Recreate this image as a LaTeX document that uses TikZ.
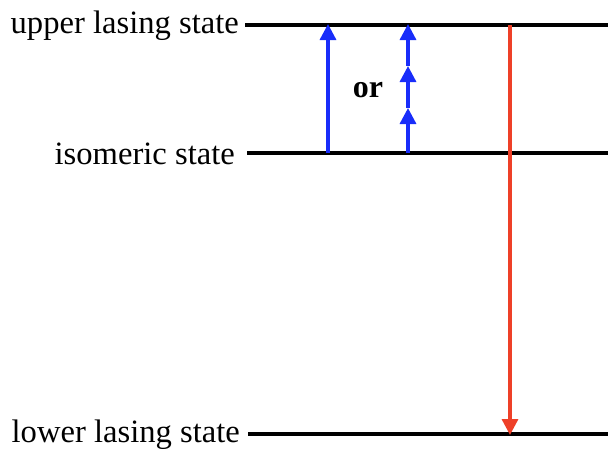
\documentclass[tikz,border=0pt]{standalone}
\usepackage{fontspec}
\setmainfont{Liberation Serif}
\usetikzlibrary{arrows.meta}
\definecolor{pumpblue}{RGB}{25,45,250}
\definecolor{lasred}{RGB}{238,64,40}
\begin{document}
\begin{tikzpicture}[x=1pt,y=-1pt,
  level/.style={line width=3.3pt,black},
  lab/.style={anchor=east,inner sep=0pt,font=\fontsize{32.6}{38}\selectfont},
  pump/.style={line width=3.3pt,pumpblue,-{Triangle[length=16pt,width=16pt]}},
  emit/.style={line width=3.3pt,lasred,-{Triangle[length=16pt,width=16pt]}}]
\useasboundingbox (0,0) rectangle (608,450);
\node[lab] (tu) at (239,26) {upper lasing state};
\node[lab] (tm) at (235,154) {isomeric state};
\node[lab] (tl) at (240,435) {lower lasing state};
\coordinate (u0) at (245,25); \coordinate (u1) at (608,25);
\coordinate (m0) at (247,153); \coordinate (m1) at (608,153);
\coordinate (l0) at (248,434); \coordinate (l1) at (608,434);
\draw[level] (u0) -- (u1);
\draw[level] (m0) -- (m1);
\draw[level] (l0) -- (l1);
\coordinate (a0) at (328,153); \coordinate (a1) at (328,24);
\draw[pump] (a0) -- (a1);
\coordinate (b0) at (408,153); \coordinate (b1) at (408,108);
\coordinate (b2) at (408,66); \coordinate (b3) at (408,24);
\draw[pump] (b0) -- (b1);
\draw[pump] (b1) -- (b2);
\draw[pump] (b2) -- (b3);
\node[font=\fontsize{32}{38}\selectfont\bfseries,inner sep=0pt] (or) at (368,90) {or};
\coordinate (r0) at (510,25); \coordinate (r1) at (510,435);
\draw[emit] (r0) -- (r1);
\end{tikzpicture}
\end{document}
